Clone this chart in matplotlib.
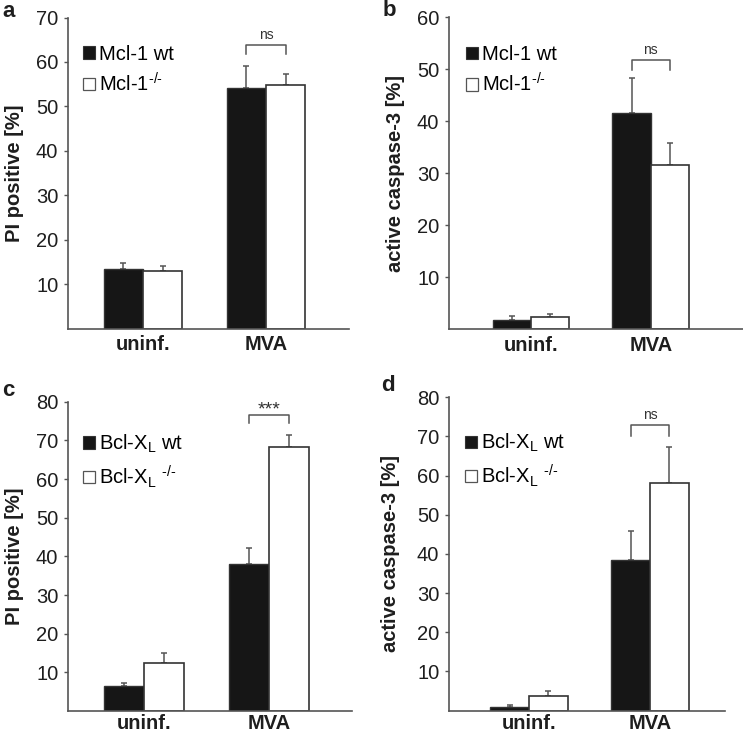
import matplotlib
matplotlib.use("Agg")
import matplotlib.pyplot as plt
from matplotlib.patches import Patch
import numpy as np

plt.rcParams['font.family'] = ['Liberation Sans', 'DejaVu Sans']
plt.rcParams['mathtext.fontset'] = 'custom'
plt.rcParams['mathtext.rm'] = 'Liberation Sans'
plt.rcParams['mathtext.it'] = 'Liberation Sans:italic'
plt.rcParams['mathtext.bf'] = 'Liberation Sans:bold'

# ---- data ----
categories = ["uninf.", "MVA"]

a_wt = [13.3, 54.1]
a_wt_err = [1.5, 4.9]
a_ko = [13.0, 54.9]
a_ko_err = [1.1, 2.4]

b_wt = [1.7, 41.6]
b_wt_err = [0.9, 6.7]
b_ko = [2.4, 31.5]
b_ko_err = [0.5, 4.3]

c_wt = [6.5, 38.1]
c_wt_err = [0.7, 4.1]
c_ko = [12.4, 68.3]
c_ko_err = [2.5, 3.2]

d_wt = [1.0, 38.4]
d_wt_err = [0.3, 7.5]
d_ko = [3.7, 58.2]
d_ko_err = [1.2, 9.1]

mcl_labels = ["Mcl-1 wt", "Mcl-1$^{\\text{-/-}}$"]
bcl_labels = ["Bcl-X$_\\mathregular{L}$ wt", "Bcl-X$_\\mathregular{L}$ $^{\\text{-/-}}$"]

a_yticks = [10, 20, 30, 40, 50, 60, 70]
b_yticks = [10, 20, 30, 40, 50, 60]
c_yticks = [10, 20, 30, 40, 50, 60, 70, 80]
d_yticks = [10, 20, 30, 40, 50, 60, 70, 80]

# significance: (label, bracket top, leg bottom)
a_sig = ("ns", 63.7, 61.8)
b_sig = ("ns", 51.7, 49.9)
c_sig = ("***", 76.5, 74.6)
d_sig = ("ns", 72.8, 70.2)

W, H = 743, 735
fig = plt.figure(figsize=(W / 100, H / 100), dpi=100)

SPINE = "#555555"
EDGE = "#333333"
BLACK = "#161616"
TXT = "#1e1e1e"
FS = 14.5


def px_axes(x0, x1, ytop, ybot):
    return fig.add_axes([x0 / W, 1 - ybot / H, (x1 - x0) / W, (ybot - ytop) / H])


def panel(ax, wt, wt_err, ko, ko_err, yticks, ymax, xlim, ylabel, labels, sig,
          letter, letter_xy, leg_anchor, ylab_x, xpad):
    x = np.arange(len(categories))
    bw = 0.32
    ax.bar(x - bw / 2, wt, bw, color=BLACK, edgecolor=EDGE, linewidth=1.0, zorder=2)
    ax.bar(x + bw / 2, ko, bw, color="white", edgecolor=EDGE, linewidth=1.2, zorder=2)
    ax.errorbar(x - bw / 2, wt, yerr=[np.zeros(len(wt)), wt_err], fmt="none",
                ecolor="#555555", elinewidth=1.1, capsize=2.5, capthick=1.1, zorder=1)
    ax.errorbar(x + bw / 2, ko, yerr=[np.zeros(len(ko)), ko_err], fmt="none",
                ecolor="#555555", elinewidth=1.1, capsize=2.5, capthick=1.1, zorder=1)
    ax.set_xlim(*xlim)
    ax.set_ylim(0, ymax)
    ax.set_yticks(yticks)
    ax.set_yticklabels([str(t) for t in yticks], fontsize=FS, color=TXT)
    ax.set_xticks(x)
    ax.set_xticklabels(categories, fontsize=FS, fontweight="bold", color=TXT)
    ax.tick_params(axis="y", length=3, width=1.0, color=SPINE, pad=4)
    ax.tick_params(axis="x", length=0, pad=xpad)
    for s in ["top", "right"]:
        ax.spines[s].set_visible(False)
    for s in ["left", "bottom"]:
        ax.spines[s].set_color(SPINE)
        ax.spines[s].set_linewidth(1.2)
    ax.set_ylabel(ylabel, fontsize=FS, fontweight="bold", color=TXT)
    ax.yaxis.set_label_coords(ylab_x, 0.5)
    # significance bracket
    lab, top, bot = sig
    xl, xr = x[1] - bw / 2, x[1] + bw / 2
    ax.plot([xl, xl, xr, xr], [bot, top, top, bot], color="#555555", lw=1.1,
            clip_on=False)
    if lab == "ns":
        ax.text(x[1], top + ymax * 0.012, lab, ha="center", va="bottom",
                fontsize=10, color="#333333")
    else:
        ax.text(x[1], top - ymax * 0.01, lab, ha="center", va="bottom",
                fontsize=14, color="#333333")
    handles = [Patch(facecolor=BLACK, edgecolor=EDGE, lw=0.8),
               Patch(facecolor="white", edgecolor="#555555", lw=0.9)]
    ax.legend(handles, labels, loc="upper left", bbox_to_anchor=leg_anchor,
              frameon=False, fontsize=FS, handlelength=0.6, handleheight=0.6,
              handletextpad=0.2, borderpad=0, borderaxespad=0, labelspacing=0.4)
    fig.text(letter_xy[0] / W, 1 - letter_xy[1] / H, letter, fontsize=16,
             fontweight="bold", ha="left", va="top", color=TXT)


ax_a = px_axes(68, 349, 17.5, 328.5)
panel(ax_a, a_wt, a_wt_err, a_ko, a_ko_err, a_yticks, 70, (-0.61, 1.675),
      "PI positive [%]", mcl_labels, a_sig, "a", (2, 1), (0.053, 0.912), -0.157, 5)

ax_b = px_axes(449, 743, 17.3, 329.3)
panel(ax_b, b_wt, b_wt_err, b_ko, b_ko_err, b_yticks, 60, (-0.683, 1.77),
      "active caspase-3 [%]", mcl_labels, b_sig, "b", (383, 0), (0.058, 0.911), -0.15, 5)

ax_c = px_axes(68, 352, 401.7, 711)
panel(ax_c, c_wt, c_wt_err, c_ko, c_ko_err, c_yticks, 80, (-0.61, 1.66),
      "PI positive [%]", bcl_labels, c_sig, "c", (2, 380), (0.053, 0.899), -0.155, 2.5)

ax_d = px_axes(449, 725, 397.3, 710.5)
panel(ax_d, d_wt, d_wt_err, d_ko, d_ko_err, d_yticks, 80, (-0.66, 1.62),
      "active caspase-3 [%]", bcl_labels, d_sig, "d", (381, 375), (0.058, 0.889), -0.178, 2.5)

fig.savefig("out.png", dpi=100)
